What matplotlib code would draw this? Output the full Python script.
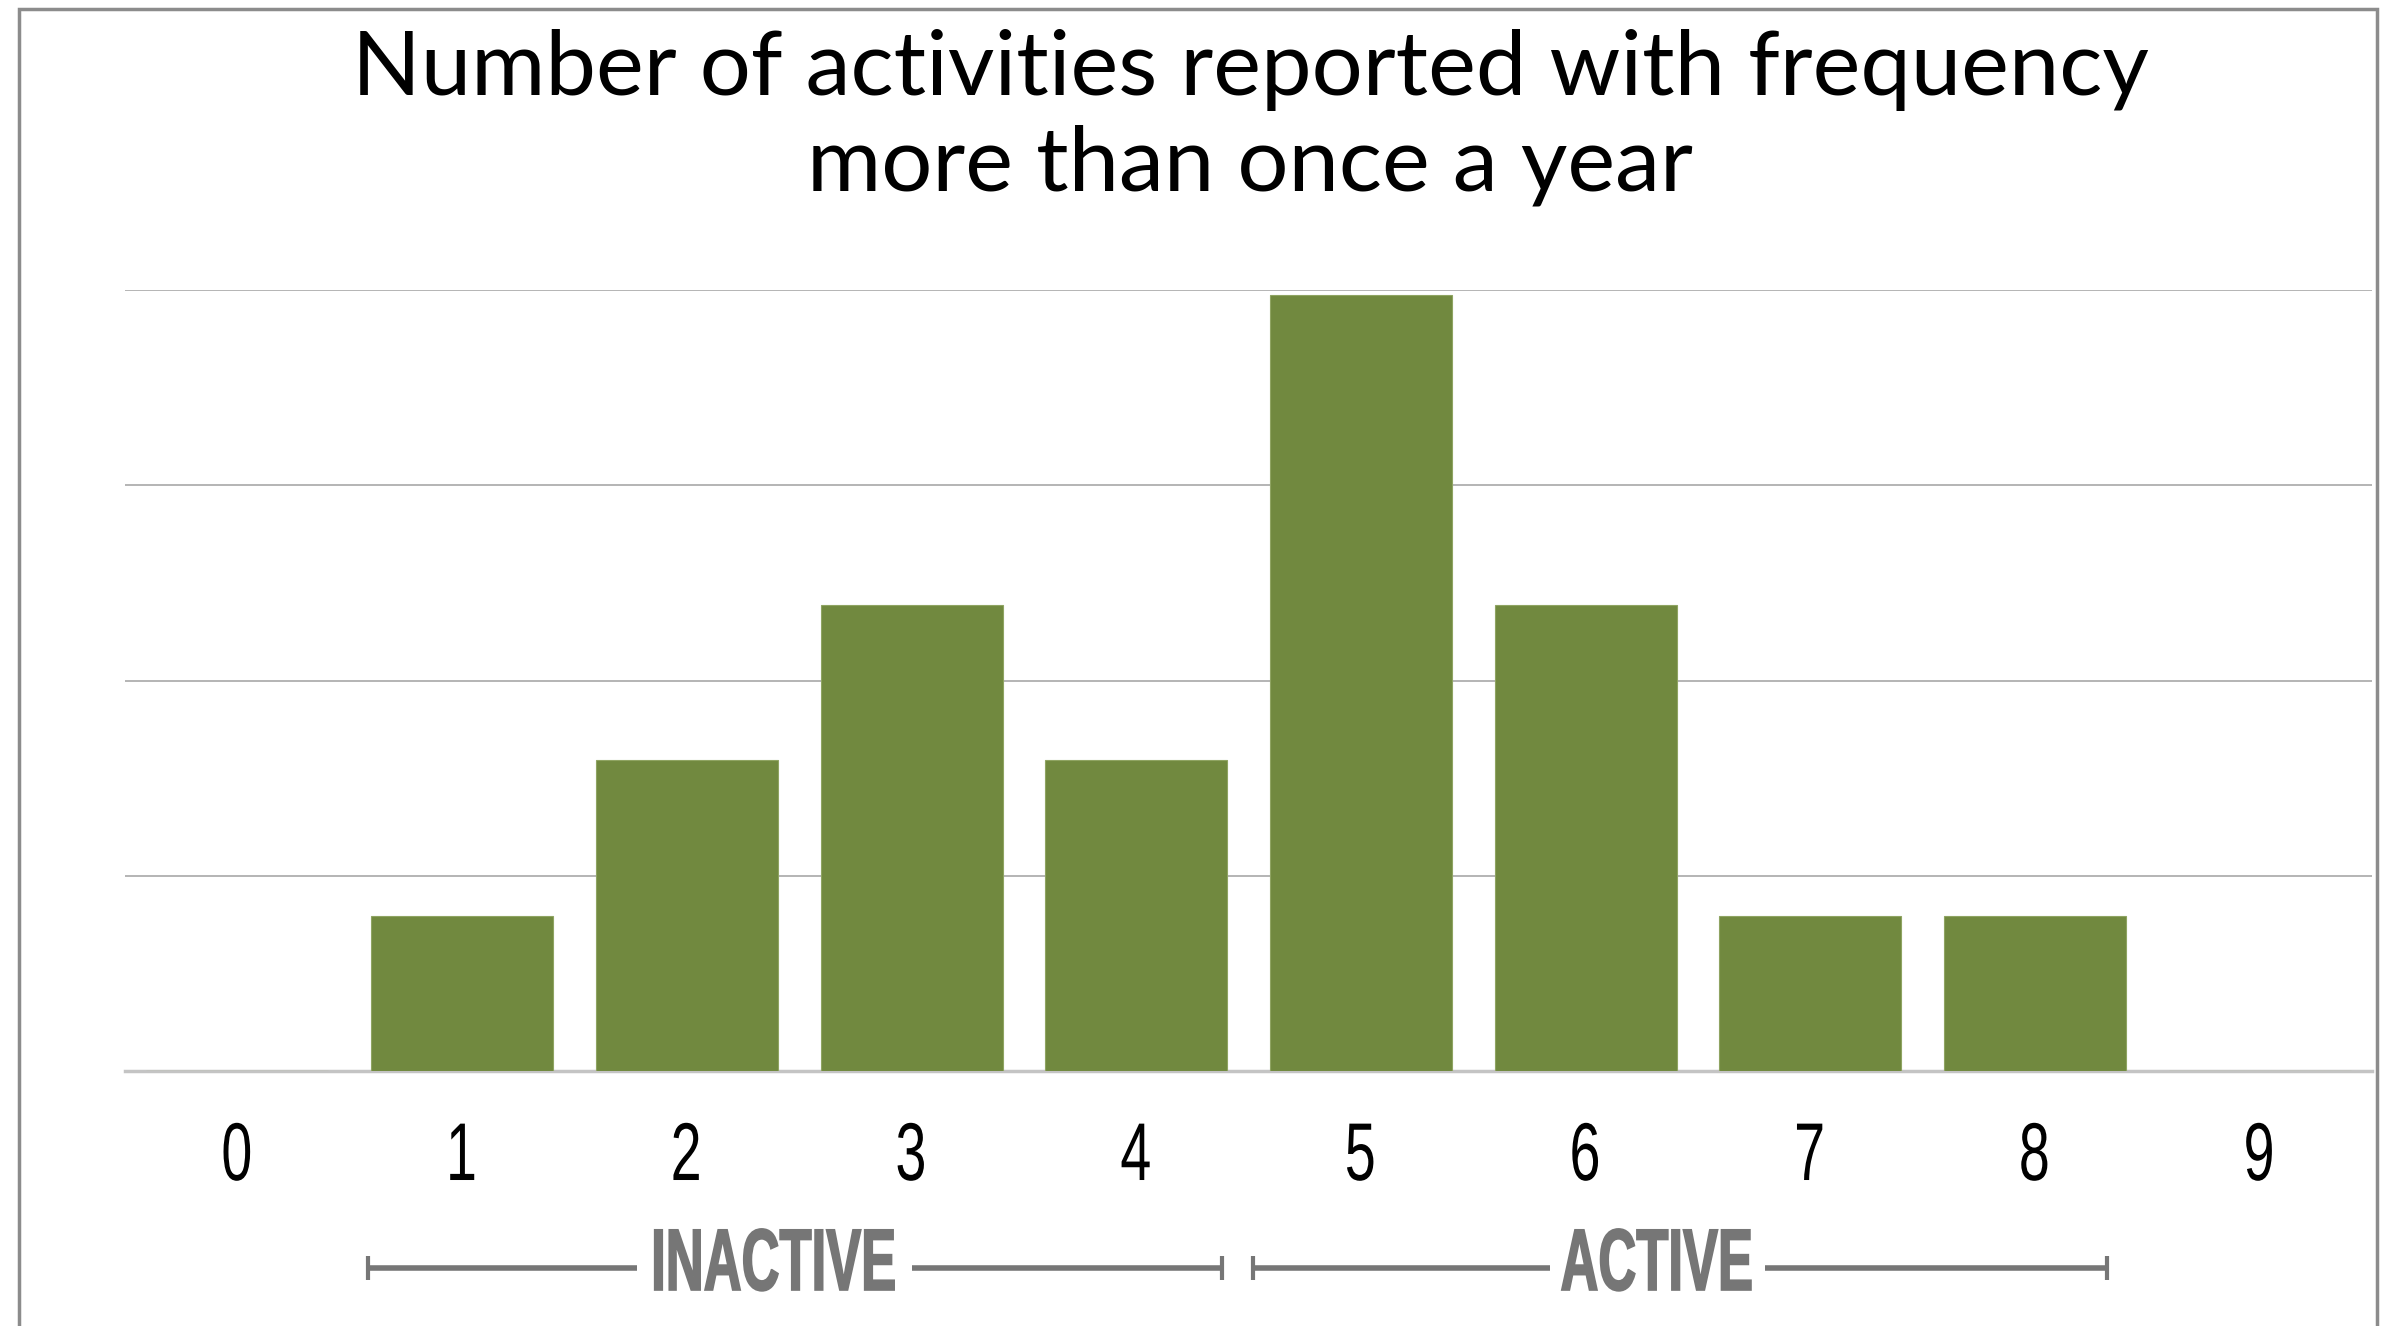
import matplotlib
matplotlib.use('Agg')
import matplotlib.pyplot as plt
import matplotlib.patheffects as pe
from matplotlib.patches import Rectangle
from matplotlib.transforms import Affine2D, blended_transform_factory
import numpy as np

# data
categories = ['0', '1', '2', '3', '4', '5', '6', '7', '8', '9']
counts = [0, 1, 2, 3, 2, 5, 3, 1, 1, 0]

title_lines = ['Number of activities reported with frequency',
               'more than once a year']

groups = ['INACTIVE', 'ACTIVE']
group_spans = [(0.58, 4.38), (4.52, 8.32)]
group_label_x = [2.39, 6.32]
group_gap = [0.61, 0.48]

BAR_COLOR = '#71893f'
GREY = '#767676'


class Squeeze(pe.AbstractPathEffect):
    """squeeze text horizontally (no condensed fonts installed)"""

    def __init__(self, sx, thicken=0.0):
        super().__init__()
        self.sx = sx
        self.thicken = thicken

    def draw_path(self, renderer, gc, tpath, affine, rgbFace=None):
        if len(tpath.vertices) == 0:
            return
        xs = affine.transform(tpath.vertices)[:, 0]
        cx = 0.5 * (xs.min() + xs.max())
        tr = affine + Affine2D().translate(-cx, 0).scale(self.sx, 1).translate(cx, 0)
        gc0 = renderer.new_gc()
        gc0.copy_properties(gc)
        if self.thicken:
            gc0.set_linewidth(self.thicken)
            gc0.set_foreground(rgbFace)
            gc0.set_joinstyle('miter')
        else:
            gc0.set_linewidth(0)
        renderer.draw_path(gc0, tpath, tr, rgbFace)
        gc0.restore()


fig = plt.figure(figsize=(23.96, 13.26), dpi=100)
ax = fig.add_axes([0.0522, 0.1923, 0.9378, 0.5890])

x = np.arange(len(categories))
ax.bar(x, counts, width=0.81, color=BAR_COLOR, edgecolor='#8fa462', linewidth=0.8, zorder=3)

ax.set_xlim(-0.5, len(categories) - 0.5)
ax.set_ylim(0, 5.03)
ax.set_yticks(np.linspace(0, 5.03, 5))
ax.grid(axis='y', color='#b4b4b4', linewidth=1.4)
ax.set_axisbelow(True)
for s in ['left', 'right', 'top']:
    ax.spines[s].set_visible(False)
ax.spines['bottom'].set_color('#c4c4c4')
ax.spines['bottom'].set_linewidth(2.5)
ax.tick_params(left=False, labelleft=False, length=0, pad=36)
ax.set_xticks(x, categories)
for lab in ax.get_xticklabels():
    lab.set_fontsize(59)
    lab.set_family('Liberation Sans')
    lab.set_color('black')
    lab.set_path_effects([Squeeze(0.68)])

# title
for line, ypx in zip(title_lines, [95, 191]):
    fig.text(0.5217, 1 - ypx / 1326, line, ha='center', va='baseline',
             fontsize=65, family='Lato', color='black')

# INACTIVE / ACTIVE brackets under the axis
trans = blended_transform_factory(ax.transData, fig.transFigure)
y_line = 1 - 1268 / 1326
cap = 12 / 1326
for name, (x0, x1), xc, g in zip(groups, group_spans, group_label_x, group_gap):
    ax.plot([x0, xc - g], [y_line, y_line], color=GREY, lw=4, transform=trans, clip_on=False,
            solid_capstyle='butt')
    ax.plot([xc + g, x1], [y_line, y_line], color=GREY, lw=4, transform=trans, clip_on=False,
            solid_capstyle='butt')
    for xe in (x0, x1):
        ax.plot([xe, xe], [y_line - cap, y_line + cap], color=GREY, lw=3, transform=trans,
                clip_on=False, solid_capstyle='butt')
    t = ax.text(xc, 1 - 1290 / 1326, name, transform=trans, ha='center', va='baseline',
                fontsize=63, family='Liberation Sans', fontweight='bold', color=GREY)
    t.set_path_effects([Squeeze(0.6, thicken=1.2)])

# grey frame around the chart
fig.patches.append(Rectangle((19 / 2396, -0.05), (2377 - 19) / 2396, 1.05 - 9 / 1326,
                             transform=fig.transFigure, fill=False,
                             edgecolor='#8c8c8c', linewidth=2.5))

fig.savefig('out.png', dpi=100, facecolor='white')
